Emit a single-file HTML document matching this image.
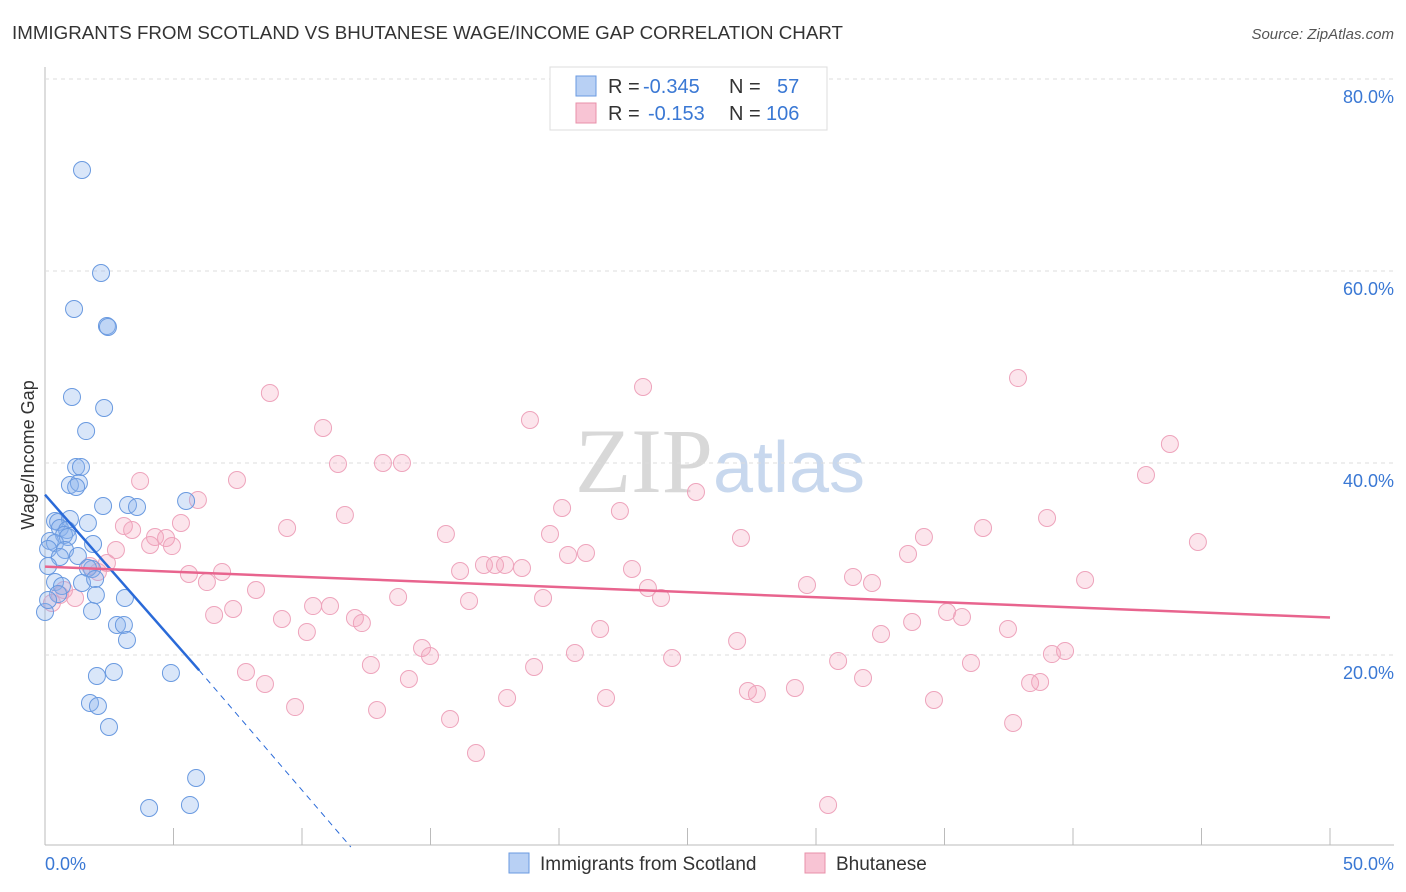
<!DOCTYPE html>
<html><head><meta charset="utf-8">
<style>
body{margin:0;background:#fff;font-family:"Liberation Sans",sans-serif;}
#wrap{position:relative;width:1406px;height:892px;overflow:hidden;}
</style></head>
<body>
<div id="wrap">
<svg id="svg" width="1406" height="892">
<text x="12" y="39" font-size="18" fill="#333" textLength="831" lengthAdjust="spacingAndGlyphs">IMMIGRANTS FROM SCOTLAND VS BHUTANESE WAGE/INCOME GAP CORRELATION CHART</text>
<text x="1394" y="39" font-size="15" fill="#555" font-style="italic" text-anchor="end">Source: ZipAtlas.com</text>
<text x="720" y="492" font-size="92" fill="#d8d8d8" text-anchor="middle" font-family="Liberation Serif,serif">ZIP<tspan fill="#c8d8ee" font-family="Liberation Sans,sans-serif" font-size="72">atlas</tspan></text>
<g id="grid"></g><g id="pts"></g><g id="lines"></g>
<text x="34" y="455" font-size="18" fill="#333" transform="rotate(-90 34 455)" text-anchor="middle">Wage/Income Gap</text>
<text x="45" y="870" font-size="18" fill="#3a78d4">0.0%</text>
<text x="1394" y="870" font-size="18" fill="#3a78d4" text-anchor="end">50.0%</text>
<g>
<rect x="550" y="67" width="277" height="63" fill="#fff" stroke="#ddd"/>
<rect x="576" y="76" width="20" height="20" fill="#b8d0f4" stroke="#6a9ae0"/>
<rect x="576" y="103" width="20" height="20" fill="#f8c4d4" stroke="#e890aa"/>
<text x="608" y="93" font-size="20" fill="#333">R = <tspan fill="#3a78d4" x="643">-0.345</tspan><tspan x="729">N = </tspan><tspan fill="#3a78d4" x="777">57</tspan></text>
<text x="608" y="120" font-size="20" fill="#333">R = <tspan fill="#3a78d4" x="648">-0.153</tspan><tspan x="729">N = </tspan><tspan fill="#3a78d4" x="766">106</tspan></text>
</g>
<g>
<rect x="509" y="853" width="20" height="20" fill="#b8d0f4" stroke="#6a9ae0"/>
<text x="540" y="870" font-size="19" fill="#333">Immigrants from Scotland</text>
<rect x="805" y="853" width="20" height="20" fill="#f8c4d4" stroke="#e890aa"/>
<text x="836" y="870" font-size="19" fill="#333">Bhutanese</text>
</g>
</svg>
</div>
<script>
const yTicks=[20,40,60,80];
const xTicks=[0,5,10,15,20,25,30,35,40,45,50];
const bluePx=[[82,170],[101,273],[74,309],[107,326],[108,327],[72,397],[104,408],[86,431],[76,467],[81,467],[70,485],[79,483],[76,487],[103,506],[128,505],[137,507],[186,501],[55,521],[58,522],[70,519],[88,523],[60,528],[67,530],[64,535],[68,537],[50,541],[55,543],[93,544],[48,549],[65,550],[78,556],[60,557],[48,566],[92,569],[88,568],[55,582],[82,583],[95,579],[62,586],[58,594],[96,595],[125,598],[92,611],[117,625],[124,625],[127,640],[45,612],[114,672],[97,676],[171,673],[90,703],[98,706],[109,727],[196,778],[149,808],[190,805],[48,600]];
const pinkPx=[[270,393],[643,387],[1018,378],[323,428],[530,420],[1170,444],[338,464],[383,463],[402,463],[1146,475],[140,481],[237,480],[696,492],[198,500],[345,515],[562,508],[620,511],[1047,518],[181,523],[124,526],[132,530],[287,528],[446,534],[550,534],[741,538],[924,537],[983,528],[155,537],[166,538],[150,545],[172,546],[116,550],[568,555],[586,553],[908,554],[1198,542],[107,563],[90,566],[98,572],[460,571],[484,565],[495,565],[505,565],[522,568],[632,569],[189,574],[222,572],[207,582],[853,577],[872,583],[1085,580],[807,585],[648,588],[661,598],[256,590],[398,597],[469,601],[543,598],[330,606],[313,606],[233,609],[214,615],[282,619],[355,618],[362,623],[947,612],[962,617],[912,622],[1008,629],[600,629],[307,632],[881,634],[737,641],[422,648],[430,656],[1052,654],[1065,651],[575,653],[672,658],[838,661],[371,665],[971,663],[246,672],[534,667],[409,679],[863,678],[265,684],[1030,683],[1040,682],[795,688],[748,691],[757,694],[507,698],[606,698],[934,700],[295,707],[377,710],[450,719],[1013,723],[476,753],[828,805],[60,595],[75,598],[52,603],[64,590]];
const blueData=bluePx.map(p=>[+((p[0]-45)/25.7).toFixed(2),+((847-p[1])/9.6).toFixed(2)]);
const pinkData=pinkPx.map(p=>[+((p[0]-45)/25.7).toFixed(2),+((847-p[1])/9.6).toFixed(2)]);
const blueTrend=[[0,36.7],[6,18.4],[11.9,0]];
const pinkTrend=[[0,29.2],[50,23.9]];
const X=v=>45+v*25.7, Y=v=>847-v*9.6;
const NS="http://www.w3.org/2000/svg";
function mk(t,a,p){const e=document.createElementNS(NS,t);for(const k in a)e.setAttribute(k,a[k]);p.appendChild(e);return e;}
const g=document.getElementById('grid');
const ax=mk('line',{x1:45,y1:67,x2:45,y2:845,stroke:'#bbb'},g);


const bx=mk('line',{x1:45,y1:845,x2:1394,y2:845,stroke:'#bbb'},g);


yTicks.forEach(t=>{const l=mk('line',{x1:45,x2:1394,y1:Y(t),y2:Y(t),stroke:'#ddd','stroke-dasharray':'4,4'},g);


const tx=mk('text',{x:1394,y:Y(t)+24,'font-size':18,fill:'#3a78d4','text-anchor':'end'},g);tx.textContent=t.toFixed(1)+'%';

});
xTicks.forEach(t=>{const l=mk('line',{x1:X(t),x2:X(t),y1:828,y2:845,stroke:'#bbb'},g);

});
const pg=document.getElementById('pts');
pinkData.forEach(d=>{const c=mk('circle',{cx:X(d[0]),cy:Y(d[1]),r:8.5,fill:'rgba(244,160,188,0.28)',stroke:'#eea4bc','stroke-width':1},pg);

});
blueData.forEach(d=>{const c=mk('circle',{cx:X(d[0]),cy:Y(d[1]),r:8.5,fill:'rgba(140,180,236,0.33)',stroke:'#6a9ae0','stroke-width':1},pg);

});
const lg=document.getElementById('lines');
const b1=mk('line',{x1:X(blueTrend[0][0]),y1:Y(blueTrend[0][1]),x2:X(blueTrend[1][0]),y2:Y(blueTrend[1][1]),stroke:'#2a6ad8','stroke-width':2.5},lg);


const b2=mk('line',{x1:X(blueTrend[1][0]),y1:Y(blueTrend[1][1]),x2:X(blueTrend[2][0]),y2:Y(blueTrend[2][1]),stroke:'#2a6ad8','stroke-width':1,'stroke-dasharray':'6,5'},lg);


const p1=mk('line',{x1:X(pinkTrend[0][0]),y1:Y(pinkTrend[0][1]),x2:X(pinkTrend[1][0]),y2:Y(pinkTrend[1][1]),stroke:'#e8648e','stroke-width':2.5},lg);


</script>
</body></html>
